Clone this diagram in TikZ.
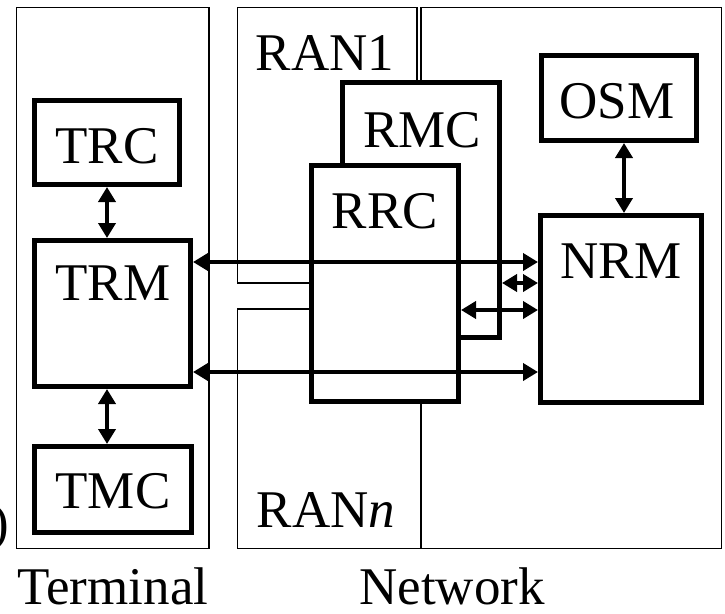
\documentclass[tikz,border=0pt]{standalone}
\usepackage{fontspec}
\setmainfont{Liberation Serif}
\usetikzlibrary{arrows.meta}
\begin{document}
\begin{tikzpicture}[x=1pt,y=-1pt,
  thinbox/.style={draw,line width=1.6pt},
  blockbox/.style={draw,line width=5pt,fill=white,inner sep=0pt},
  lbl/.style={font=\fontsize{53}{60}\selectfont,inner sep=0pt,anchor=base},
  biarrow/.style={line width=4.5pt,{Triangle[length=15pt,width=17pt]}-{Triangle[length=15pt,width=17pt]}}]
\clip (0,0) rectangle (725,613);
\fill[white] (0,0) rectangle (725,613);
% thin frames
\draw[thinbox] (16.5,7.5) rectangle (209,548.5);
\draw[thinbox] (237.5,7.5) rectangle (417,283);
\draw[thinbox] (421,7.5) rectangle (721.5,548.5);
\draw[thinbox] (237.5,309) rectangle (421,548.5);
% blocks
\node[blockbox,minimum width=145pt,minimum height=84pt] (TRC) at (107,142.5) {};
\node[blockbox,minimum width=156pt,minimum height=146pt] (TRM) at (112.5,313.5) {};
\node[blockbox,minimum width=157pt,minimum height=86pt] (TMC) at (113,489.5) {};
\node[blockbox,minimum width=157pt,minimum height=255pt] (RMC) at (421,210) {};
\node[blockbox,minimum width=147pt,minimum height=236pt] (RRC) at (385,283.5) {};
\node[blockbox,minimum width=155pt,minimum height=85pt] (OSM) at (619,98) {};
\node[blockbox,minimum width=161pt,minimum height=187pt] (NRM) at (621,309) {};
% labels
\node[lbl] (tTRC) at (107,163) {TRC};
\node[lbl] (tTRM) at (113,300) {TRM};
\node[lbl] (tTMC) at (113,508) {TMC};
\node[lbl] (tRAN1) at (325,70) {RAN1};
\node[lbl] (tRMC) at (422,147) {RMC};
\node[lbl] (tRRC) at (385,228) {RRC};
\node[lbl] (tOSM) at (617,118) {OSM};
\node[lbl] (tNRM) at (621,278) {NRM};
\node[lbl] (tRANn) at (326,527) {RAN\textit{n}};
\node[lbl,text depth=0pt] (tTerm) at (113,604) {Terminal};
\node[lbl,text depth=0pt] (tNet) at (452,604) {Network};
\node[lbl,anchor=base east] (tpar) at (9,540) {)};
% connectors
\draw[biarrow] (TRC.south) -- (TRC.south |- TRM.north);
\draw[biarrow] (TRM.south -| TRC.south) -- (TMC.north -| TRC.south);
\draw[biarrow] ([xshift=5pt]OSM.south) -- ([xshift=5pt]OSM.south |- NRM.north);
\draw[biarrow] (TRM.east |- 0,262) -- (NRM.west |- 0,262);
\draw[biarrow] (RMC.east |- 0,283) -- (NRM.west |- 0,283);
\draw[biarrow] (RRC.east |- 0,310) -- (NRM.west |- 0,310);
\draw[biarrow] (TRM.east |- 0,372) -- (NRM.west |- 0,372);
\end{tikzpicture}
\end{document}
